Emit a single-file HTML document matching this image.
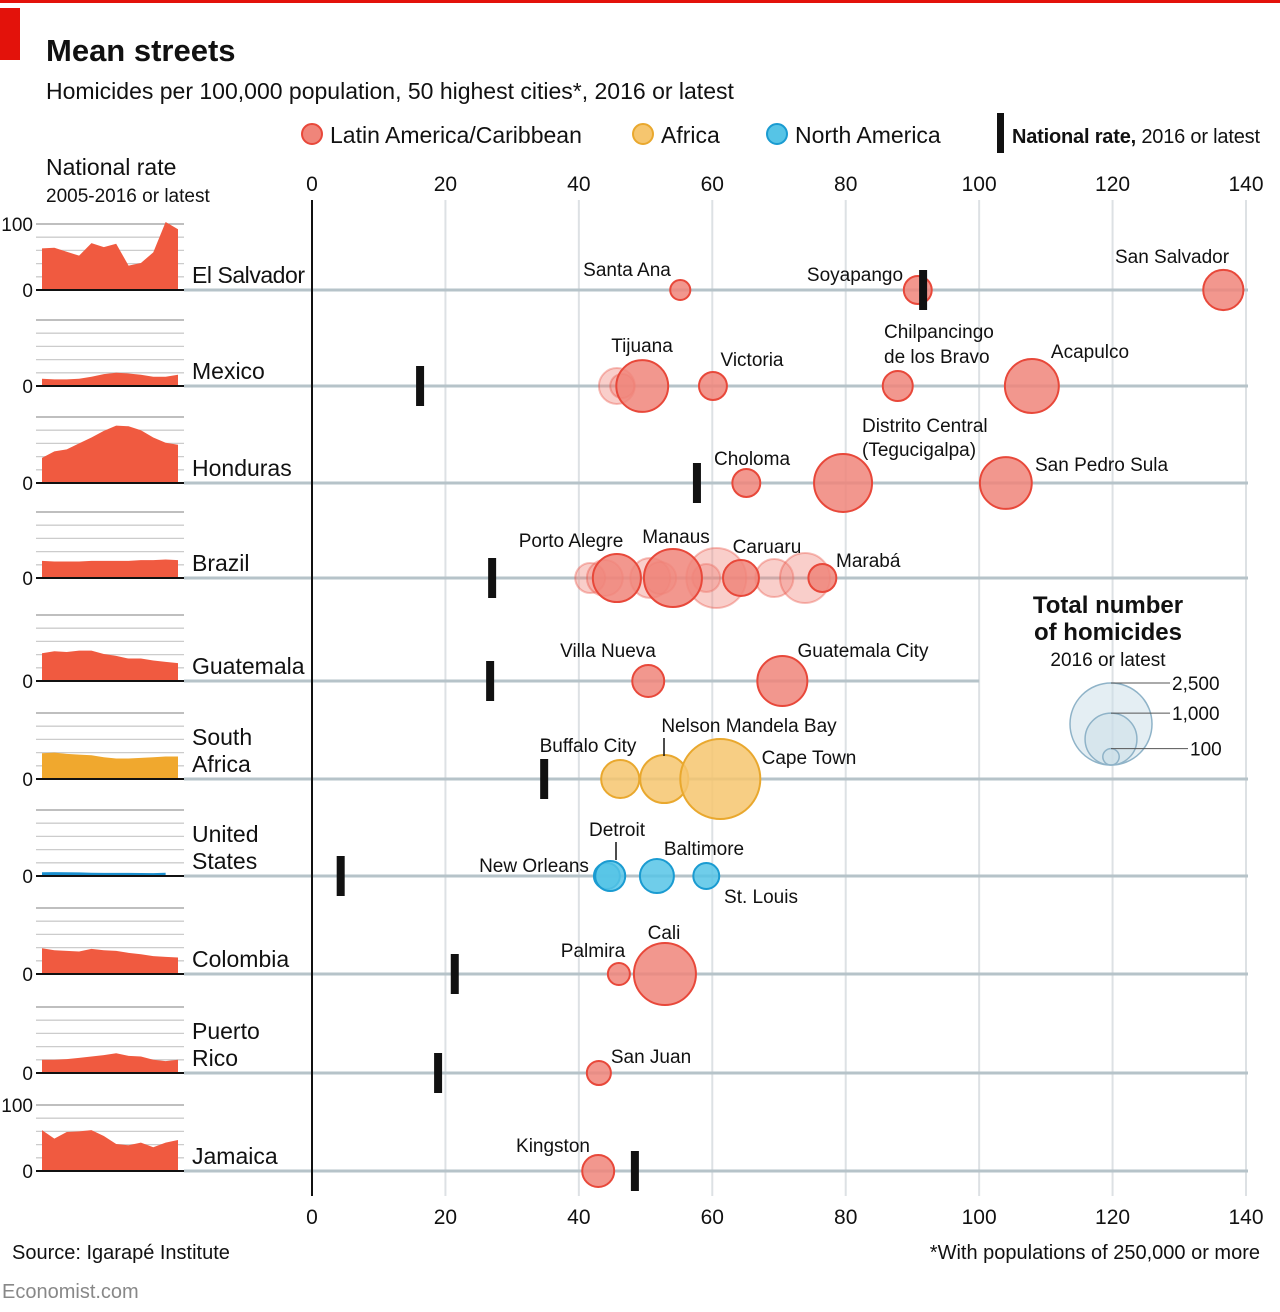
<!DOCTYPE html>
<html><head><meta charset="utf-8"><style>
html,body{margin:0;padding:0;background:#fff;}
svg{display:block;font-family:"Liberation Sans Narrow","Liberation Sans",sans-serif;}
</style></head><body>
<svg id="chart" width="1280" height="1312" viewBox="0 0 1280 1312">
<rect x="0" y="0" width="1280" height="3" fill="#e3120b"/>
<rect x="0" y="8" width="20" height="52" fill="#e3120b"/>
<text x="46" y="61" font-size="31" font-weight="bold" fill="#111">Mean streets</text>
<text x="46" y="99" font-size="23" fill="#111">Homicides per 100,000 population, 50 highest cities*, 2016 or latest</text>
<g font-size="23" fill="#111">
<circle cx="312" cy="134" r="10" fill="#f0857a" stroke="#e8483a" stroke-width="2"/>
<text x="330" y="143">Latin America/Caribbean</text>
<circle cx="643" cy="134" r="10" fill="#f6c66f" stroke="#e9a82e" stroke-width="2"/>
<text x="661" y="143">Africa</text>
<circle cx="777" cy="134" r="10" fill="#56c4e6" stroke="#1a9bd1" stroke-width="2"/>
<text x="795" y="143">North America</text>
<rect x="997" y="113" width="7" height="40" fill="#111"/>
<text x="1012" y="143" font-size="20" textLength="248"><tspan font-weight="bold">National rate,</tspan> 2016 or latest</text>
</g>
<text x="46" y="175" font-size="23" fill="#111">National rate</text>
<text x="46" y="202" font-size="19" fill="#111">2005-2016 or latest</text>
<g id="grid"></g><g id="rows"></g><g id="spark"></g><g id="marks"></g>
<g font-size="19" fill="#111">
<text x="627" y="276" text-anchor="middle">Santa Ana</text>
<text x="855" y="281" text-anchor="middle">Soyapango</text>
<text x="1172" y="263" text-anchor="middle">San Salvador</text>
<text x="642" y="352" text-anchor="middle">Tijuana</text>
<text x="752" y="366" text-anchor="middle">Victoria</text>
<text x="884" y="338">Chilpancingo</text>
<text x="884" y="363">de los Bravo</text>
<text x="1090" y="358" text-anchor="middle">Acapulco</text>
<text x="752" y="465" text-anchor="middle">Choloma</text>
<text x="862" y="432">Distrito Central</text>
<text x="862" y="456">(Tegucigalpa)</text>
<text x="1035" y="471">San Pedro Sula</text>
<text x="571" y="547" text-anchor="middle">Porto Alegre</text>
<text x="676" y="543" text-anchor="middle">Manaus</text>
<text x="767" y="553" text-anchor="middle">Caruaru</text>
<text x="836" y="567">Marabá</text>
<text x="608" y="657" text-anchor="middle">Villa Nueva</text>
<text x="863" y="657" text-anchor="middle">Guatemala City</text>
<text x="588" y="752" text-anchor="middle">Buffalo City</text>
<text x="749" y="732" text-anchor="middle">Nelson Mandela Bay</text>
<line x1="664" y1="738" x2="664" y2="756" stroke="#111" stroke-width="1.5"/>
<text x="809" y="764" text-anchor="middle">Cape Town</text>
<text x="617" y="836" text-anchor="middle">Detroit</text>
<line x1="616" y1="842" x2="616" y2="860" stroke="#111" stroke-width="1.5"/>
<text x="704" y="855" text-anchor="middle">Baltimore</text>
<text x="534" y="872" text-anchor="middle">New Orleans</text>
<text x="761" y="903" text-anchor="middle">St. Louis</text>
<text x="664" y="939" text-anchor="middle">Cali</text>
<text x="593" y="957" text-anchor="middle">Palmira</text>
<text x="651" y="1063" text-anchor="middle">San Juan</text>
<text x="553" y="1152" text-anchor="middle">Kingston</text>
</g>
<g fill="#111">
<text x="1108" y="613" font-size="24" font-weight="bold" text-anchor="middle">Total number</text>
<text x="1108" y="640" font-size="24" font-weight="bold" text-anchor="middle">of homicides</text>
<text x="1108" y="666" font-size="19" text-anchor="middle">2016 or latest</text>
<g id="sizeleg"></g>
</g>
<text x="12" y="1259" font-size="20" fill="#111">Source: Igarapé Institute</text>
<text x="1260" y="1259" font-size="20" fill="#111" text-anchor="end">*With populations of 250,000 or more</text>
<text x="2" y="1298" font-size="20" fill="#888">Economist.com</text>
</svg>
<script>
const xTicks=[0,20,40,60,80,100,120,140];
const countries=["El Salvador","Mexico","Honduras","Brazil","Guatemala","South Africa","United States","Colombia","Puerto Rico","Jamaica"];
const countryLines=[["El Salvador"],["Mexico"],["Honduras"],["Brazil"],["Guatemala"],["South","Africa"],["United","States"],["Colombia"],["Puerto","Rico"],["Jamaica"]];
const regions=["latam","latam","latam","latam","latam","africa","na","latam","latam","latam"];
const nationalRates=[91.6,16.2,57.7,27.0,26.7,34.8,4.3,21.4,18.9,48.4];
const sparkSalvador=[63,64,58,52,71,65,70,37,41,57,103,92];
const sparkMexico=[11,10,10,11,14,18,20,19,17,14,14,17];
const sparkHonduras=[38,48,51,60,69,79,87,86,80,69,61,58];
const sparkBrazil=[26,25,25,25,26,26,26,26,27,27,28,27];
const sparkGuatemala=[42,45,44,46,46,41,38,34,34,31,29,27];
const sparkSouthAfrica=[39,40,38,37,36,33,31,31,32,33,34,34];
const sparkUS=[5.6,5.8,5.7,5.4,5.0,4.8,4.7,4.7,4.5,4.4,4.9];
const sparkColombia=[39,36,35,34,38,36,35,32,30,27,26,25];
const sparkPuertoRico=[20,20,21,23,25,27,30,26,25,20,18,20];
const sparkJamaica=[62,49,59,60,62,53,41,39,43,36,43,47];
const sparks=[sparkSalvador,sparkMexico,sparkHonduras,sparkBrazil,sparkGuatemala,sparkSouthAfrica,sparkUS,sparkColombia,sparkPuertoRico,sparkJamaica];
const cityCountry=[0,0,0, 1,1,1,1,1,1, 2,2,2, 3,3,3,3,3,3,3,3,3,3,3,3, 4,4, 5,5,5, 6,6,6,6, 7,7, 8, 9];
const cityRate=[55.2,90.8,136.6, 45.7,46.5,49.5,60.1,87.8,107.9, 65.1,79.6,104.0, 41.7,43.9,45.7,50.7,52.2,54.1,59.1,60.6,64.3,69.3,73.9,76.5, 50.4,70.5, 46.2,52.8,61.2, 44.2,44.7,51.7,59.1, 46.0,52.9, 43.0, 42.9];
const cityCount=[150,290,600, 480,215,1000,290,335,1080, 290,1250,1000, 335,480,860,595,380,1250,290,1340,480,540,930,290, 380,930, 540,860,2380, 250,335,430,250, 180,1430, 215, 380];
const cityStrong=[1,1,1, 0,0,1,1,1,1, 1,1,1, 0,0,1,0,0,1,0,0,1,0,0,1, 1,1, 1,1,1, 1,1,1,1, 1,1, 1, 1];
const sizeLegendCounts=[2500,1000,100];
const sizeLegendLabels=["2,500","1,000","100"];

const NS="http://www.w3.org/2000/svg";
const x0=312,x1=1246;
const xs=v=>x0+(v/140)*(x1-x0);
const rowY=[290,386,483,578,681,779,876,974,1073,1171];
const rScale=c=>0.82*Math.sqrt(c);
const sparkX0=42,sparkX1=178;
const sparkStep=(sparkX1-sparkX0)/11;
const sY=(base,v)=>base-v*0.66;
const fills={latam:"#f0857a",africa:"#f6c66f",na:"#56c4e6"};
const strokes={latam:"#e8483a",africa:"#e9a82e",na:"#1a9bd1"};
function mk(tag,attrs,parent){const e=document.createElementNS(NS,tag);for(const k in attrs)e.setAttribute(k,attrs[k]);parent.appendChild(e);return e;}

const grid=document.getElementById('grid');
xTicks.forEach(t=>{
  const l=mk('line',{x1:xs(t),x2:xs(t),y1:200,y2:1196,stroke:"#dde1e4","stroke-width":2},grid);
  
  
  [191,1224].forEach(y=>{
    const tx=mk('text',{x:xs(t),y:y,"text-anchor":"middle","font-size":21,fill:"#111"},grid);
    tx.textContent=t;
    
    
  });
});

const rows=document.getElementById('rows');
const spark=document.getElementById('spark');
countries.forEach((c,i)=>{
  const y=rowY[i];
  const endX=(i===4)?xs(100):1248;
  const rl=mk('line',{x1:184,x2:endX,y1:y,y2:y,stroke:"#b6c3c9","stroke-width":3},rows);
  
  
  for(let k=1;k<=5;k++){
    const gl=mk('line',{x1:36,x2:184,y1:y-k*13.2,y2:y-k*13.2,stroke:k===5?"#999":"#ccc","stroke-width":1.3},spark);
    
    
  }
  const d=sparks[i];
  let p=`M${sparkX0},${y}`;
  d.forEach((v,j)=>{p+=` L${sparkX0+j*sparkStep},${sY(y,v)}`;});
  p+=` L${sparkX0+(d.length-1)*sparkStep},${y} Z`;
  const col=regions[i]==="latam"?"#f05a40":regions[i]==="africa"?"#f0a82e":"#1a8fcf";
  const a=mk('path',{d:p,fill:col},spark);
  
  
  const bl=mk('line',{x1:36,x2:184,y1:y,y2:y,stroke:"#111","stroke-width":2},spark);
  
  
  const z=mk('text',{x:33,y:y+7,"text-anchor":"end","font-size":19,fill:"#111"},spark);
  z.textContent="0";
  
  
  const lines=countryLines[i];
  lines.forEach((ln,k)=>{
    const ty=lines.length===1?y-7:y-34+k*27;
    const t=mk('text',{x:192,y:ty,"font-size":23,fill:"#111"},rows);
    if(ln==="El Salvador") t.setAttribute('textLength','113');
    t.textContent=ln;
    
    
  });
});
[224,1105].forEach(y=>{
  const t=mk('text',{x:33,y:y+7,"text-anchor":"end","font-size":19,fill:"#111"},spark);
  t.textContent="100";
  
  
});
const ax=mk('line',{x1:x0,x2:x0,y1:200,y2:1196,stroke:"#111","stroke-width":2},rows);



const marks=document.getElementById('marks');
const order=cityRate.map((_,i)=>i).sort((a,b)=>cityStrong[a]-cityStrong[b]);
order.forEach(i=>{
  const ci=cityCountry[i];const reg=regions[ci];
  const strong=cityStrong[i];
  const c=mk('circle',{cx:xs(cityRate[i]),cy:rowY[ci],r:rScale(cityCount[i]),fill:fills[reg],"fill-opacity":strong?0.85:0.4,stroke:strokes[reg],"stroke-opacity":strong?1:0.35,"stroke-width":2},marks);
  
  
});
nationalRates.forEach((v,i)=>{
  const r=mk('rect',{x:xs(v)-4,y:rowY[i]-20,width:8,height:40,fill:"#111"},marks);
  
  
});

const sl=document.getElementById('sizeleg');
const cx=1111,by=765;
sizeLegendCounts.forEach((c,i)=>{
  const r=rScale(c);
  const ci=mk('circle',{cx:cx,cy:by-r,r:r,fill:"#c9dde8","fill-opacity":0.5,stroke:"#8fb3c8","stroke-width":1.5},sl);
  
  
  const ly=by-2*r;
  const ln=mk('line',{x1:cx,x2:1170+(i===2?18:0),y1:ly,y2:ly,stroke:"#555","stroke-width":1},sl);
  
  
  const t=mk('text',{x:1172+(i===2?18:0),y:ly+7,"font-size":19,fill:"#111"},sl);
  t.textContent=sizeLegendLabels[i];
  
  
});
</script>
</body></html>
